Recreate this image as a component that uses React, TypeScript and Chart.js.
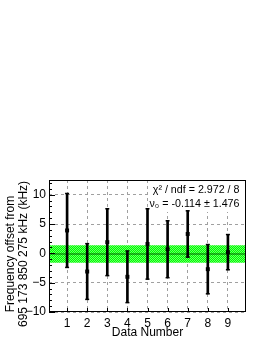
import React, { useEffect, useRef } from "react";
import { Chart, registerables } from "chart.js";

Chart.register(...registerables);

// ---- data ----
const dataNumbers = [1, 2, 3, 4, 5, 6, 7, 8, 9];
const offsets = [3.9, -3.1, 1.9, -4.0, 1.6, 0.7, 3.3, -2.7, 0.2];
const errors = [6.3, 4.75, 5.7, 4.4, 6.0, 4.85, 3.95, 4.2, 3.0];
const fitMean = -0.114;
const fitError = 1.476;
const chi2 = "2.972";
const ndf = "8";
const xTicks = [1, 2, 3, 4, 5, 6, 7, 8, 9];
const yTicks = [-10, -5, 0, 5, 10];
const yTickLabels = ["\u221210", "\u22125", "0", "5", "10"];
const xRange = [0.1, 9.9];
const yRange = [-10, 12.5];
const xTitle = "Data Number";
const yTitleLines = ["Frequency offset from", "695 173 850 275 kHz (kHz)"];
const statLines = [`\u03c7\u00b2 / ndf = ${chi2} / ${ndf}`, `\u03bd\u2080 = -${Math.abs(fitMean).toFixed(3)} \u00b1 ${fitError.toFixed(3)}`];

const FONT = "'Liberation Sans', Arial, Helvetica, sans-serif";

function makePattern(): CanvasPattern | string {
  const c = document.createElement("canvas");
  c.width = 2;
  c.height = 2;
  const g = c.getContext("2d");
  if (!g) return "#33ff33";
  g.fillStyle = "#00ff00";
  g.fillRect(0, 0, 2, 2);
  g.fillStyle = "#66ff66";
  g.fillRect(0, 0, 1, 1);
  g.fillRect(1, 1, 1, 1);
  const p = g.createPattern(c, "repeat");
  return p || "#33ff33";
}

const rootPlugin = {
  id: "rootStyle",
  beforeDatasetsDraw(chart: any) {
    const { ctx, chartArea } = chart;
    // stats box
    const boxLeft = 148;
    const boxBottom = chartArea.top + 32;
    ctx.save();
    ctx.fillStyle = "#ffffff";
    ctx.fillRect(boxLeft, chartArea.top, chartArea.right - boxLeft, boxBottom - chartArea.top);
    ctx.fillStyle = "#000";
    ctx.font = `10.7px ${FONT}`;
    ctx.textAlign = "right";
    ctx.textBaseline = "middle";
    ctx.fillText(statLines[0], chartArea.right - 6.5, chartArea.top + 10);
    ctx.fillText(statLines[1], chartArea.right - 6.5, chartArea.top + 24.3);
    ctx.restore();
  },
  afterDraw(chart: any) {
    const { ctx, chartArea } = chart;
    const xs = chart.scales.x;
    const ys = chart.scales.y;
    ctx.save();
    ctx.strokeStyle = "#000";
    ctx.lineWidth = 1;
    // frame
    ctx.strokeRect(
      Math.round(chartArea.left) + 0.5,
      Math.round(chartArea.top) + 0.5,
      Math.round(chartArea.right - chartArea.left) - 1,
      Math.round(chartArea.bottom - chartArea.top) - 1
    );
    // y ticks (inward)
    ctx.beginPath();
    for (let v = Math.ceil(yRange[0]); v <= yRange[1]; v++) {
      const py = Math.round(ys.getPixelForValue(v)) + 0.5;
      const len = v % 5 === 0 ? 6 : 3;
      ctx.moveTo(chartArea.left, py);
      ctx.lineTo(chartArea.left + len, py);
    }
    // x ticks (inward)
    for (const v of xTicks) {
      const px = Math.round(xs.getPixelForValue(v)) + 0.5;
      ctx.moveTo(px, chartArea.bottom);
      ctx.lineTo(px, chartArea.bottom - 4);
    }
    ctx.stroke();
    // y title
    ctx.fillStyle = "#000";
    ctx.font = `12px ${FONT}`;
    ctx.textAlign = "center";
    ctx.textBaseline = "middle";
    const cy = (chartArea.top + chartArea.bottom) / 2 + 8;
    const lx = [10.5, 23.8];
    yTitleLines.forEach((t, i) => {
      ctx.save();
      ctx.translate(lx[i], cy);
      ctx.rotate(-Math.PI / 2);
      ctx.fillText(t, 0, 0);
      ctx.restore();
    });
    ctx.restore();
  },
};

export default function App() {
  const ref = useRef<HTMLCanvasElement | null>(null);

  useEffect(() => {
    const canvas = ref.current;
    if (!canvas) return;
    const pattern = makePattern();
    const bandUpper = xRange.map((x) => ({ x, y: fitMean + fitError }));
    const bandLower = xRange.map((x) => ({ x, y: fitMean - fitError }));
    const fitLine = xRange.map((x) => ({ x, y: fitMean }));
    const bars = dataNumbers.map((x, i) => ({ x, y: [offsets[i] - errors[i], offsets[i] + errors[i]] }));
    const caps: { x: number; y: number }[] = [];
    dataNumbers.forEach((x, i) => {
      caps.push({ x, y: offsets[i] - errors[i] });
      caps.push({ x, y: offsets[i] + errors[i] });
    });
    const pts = dataNumbers.map((x, i) => ({ x, y: offsets[i] }));

    const tickFont = { family: FONT, size: 12 };

    const chart = new Chart(canvas, {
      type: "scatter",
      data: {
        datasets: [
          {
            type: "line",
            data: bandUpper,
            borderWidth: 0,
            pointRadius: 0,
            fill: "+1",
            backgroundColor: pattern as any,
            order: 6,
          } as any,
          {
            type: "line",
            data: bandLower,
            borderWidth: 0,
            pointRadius: 0,
            fill: false,
            order: 6,
          } as any,
          {
            type: "line",
            data: fitLine,
            borderWidth: 1,
            borderColor: "#006400",
            pointRadius: 0,
            fill: false,
            order: 5,
          } as any,
          {
            type: "bar",
            data: bars,
            backgroundColor: "#000",
            borderWidth: 0,
            barThickness: 2,
            grouped: false,
            order: 3,
          } as any,
          {
            type: "scatter",
            data: caps,
            pointStyle: "line",
            pointRadius: 2,
            borderWidth: 1.5,
            borderColor: "#000",
            order: 2,
          } as any,
          {
            type: "scatter",
            data: pts,
            pointStyle: "rect",
            pointRadius: 2.8,
            backgroundColor: "#000",
            borderWidth: 0,
            order: 1,
          } as any,
        ],
      },
      options: {
        responsive: false,
        animation: false,
        events: [],
        layout: { padding: { top: 180, right: 20, left: 0, bottom: 0 } },
        plugins: { legend: { display: false }, tooltip: { enabled: false } },
        scales: {
          x: {
            type: "linear",
            offset: false,
            min: xRange[0],
            max: xRange[1],
            afterBuildTicks: (s: any) => {
              s.ticks = xTicks.map((v) => ({ value: v }));
            },
            afterFit: (s: any) => {
              s.height = 32;
            },
            grid: { color: "#a0a0a0", lineWidth: 1, drawTicks: false, offset: false },
            border: { display: false, dash: [3, 3] },
            ticks: {
              font: tickFont,
              color: "#000",
              padding: 4,
              autoSkip: false,
              maxRotation: 0,
              callback: (v: any) => String(v),
            },
            title: {
              display: true,
              text: xTitle,
              color: "#000",
              font: { family: FONT, size: 12 },
              padding: { top: 0, bottom: 4.5 },
            },
          },
          y: {
            type: "linear",
            offset: false,
            min: yRange[0],
            max: yRange[1],
            afterBuildTicks: (s: any) => {
              s.ticks = yTicks.map((v) => ({ value: v }));
            },
            afterFit: (s: any) => {
              s.width = 49;
            },
            grid: { color: "#a0a0a0", lineWidth: 1, drawTicks: false, offset: false },
            border: { display: false, dash: [3, 3] },
            ticks: {
              font: tickFont,
              color: "#000",
              padding: 3,
              autoSkip: false,
              callback: (v: any) => yTickLabels[yTicks.indexOf(Number(v))] ?? "",
            },
          },
        },
      },
      plugins: [rootPlugin],
    } as any);

    return () => chart.destroy();
  }, []);

  return (
    <div style={{ position: "absolute", left: 0, top: 0, width: 266, height: 344, background: "#fff" }}>
      <canvas ref={ref} width={266} height={344} style={{ display: "block" }} />
    </div>
  );
}
